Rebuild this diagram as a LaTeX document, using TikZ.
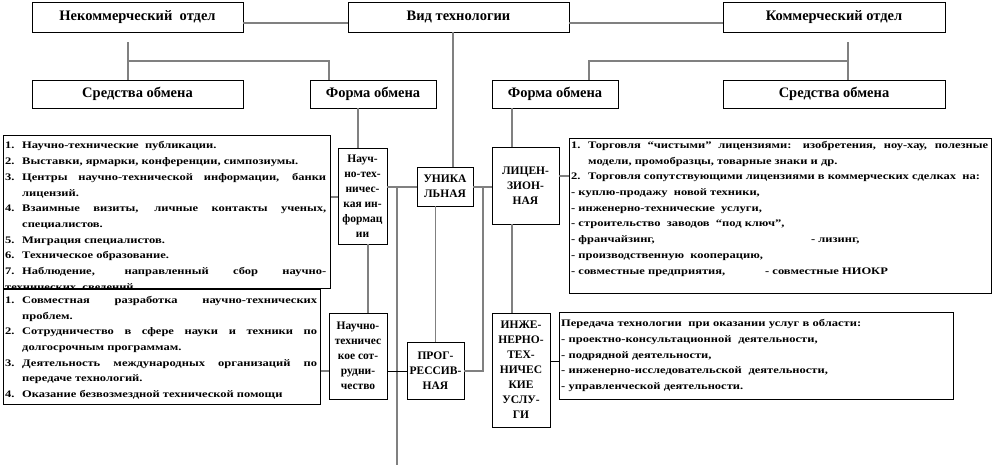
\documentclass[tikz,border=0pt]{standalone}
\usepackage{fontspec}
\setmainfont{Liberation Serif}
\newfontfamily\lstfont{Liberation Serif}[FakeStretch=1.25]
\definecolor{ln}{RGB}{128,128,128}
\newcommand\itm[1]{\par\hangindent=17pt\hangafter=1\noindent\makebox[17pt][l]{#1}\ignorespaces}
\newcommand\hdrfont{\bfseries\fontsize{14.5}{16}\selectfont}
\newcommand\sbfont{\bfseries\fontsize{11.5}{15}\selectfont}
\newcommand\lfont{\lstfont\bfseries\fontsize{10}{15.7}\selectfont\tolerance=9999\pretolerance=-1}
\begin{document}
\begin{tikzpicture}[x=1pt,y=-1pt,
  box/.style={draw=black, line width=0.8pt, inner sep=0pt, align=center},
  hbox/.style={box, font=\hdrfont},
  sbox/.style={box, font=\sbfont},
  lbox/.style={draw=black, line width=0.8pt, inner sep=0pt, anchor=north west},
  ltext/.style={anchor=north west, inner sep=0pt, align=justify, font=\lfont},
  conn/.style={draw=ln, line width=1.2pt},
  connb/.style={draw=black, line width=0.8pt}]
\useasboundingbox (0,0) rectangle (995,467);
% header row
\node[hbox, minimum width=211pt, minimum height=30pt] (nk) at (137.5,17) {Некоммерческий\ \ отдел};
\node[hbox, minimum width=221pt, minimum height=30pt] (vt) at (458.5,17) {Вид технологии};
\node[hbox, minimum width=222pt, minimum height=30pt] (ko) at (834,17) {Коммерческий отдел};
% second row
\node[hbox, minimum width=211pt, minimum height=28pt] (sl) at (137.5,94) {Средства обмена};
\node[hbox, minimum width=126pt, minimum height=28pt] (fl) at (373,94) {Форма обмена};
\node[hbox, minimum width=126pt, minimum height=28pt] (fr) at (555,94) {Форма обмена};
\node[hbox, minimum width=222pt, minimum height=28pt] (sr) at (834,94) {Средства обмена};
% small boxes
\node[sbox, minimum width=49pt, minimum height=96pt] (ni) at (362.5,196) {Науч-\\но-тех-\\ничес-\\кая ин-\\формац\\ии};
\node[sbox, minimum width=56pt, minimum height=39pt] (un) at (445,186.5) {УНИКА\\ЛЬНАЯ};
\node[sbox, minimum width=67pt, minimum height=77pt] (li) at (525.5,185.5) {ЛИЦЕН-\\ЗИОН-\\НАЯ};
\node[sbox, minimum width=58pt, minimum height=86pt] (ns) at (358,356) {Научно-\\техничес\\кое сот-\\рудни-\\чество};
\node[sbox, minimum width=57pt, minimum height=57pt] (pr) at (435.5,370.5) {ПРОГ-\\РЕССИВ-\\НАЯ};
\node[sbox, minimum width=58pt, minimum height=114pt] (ie) at (521,370) {ИНЖЕ-\\НЕРНО-\\ТЕХ-\\НИЧЕС\\КИЕ\\УСЛУ-\\ГИ};
% list boxes
\node[lbox, minimum width=327pt, minimum height=153pt] (L1) at (3,135) {};
\node[ltext, text width=321pt] (T1) at (5,133) {%
\itm{1.}Научно-технические\ \ публикации.
\itm{2.}Выставки, ярмарки, конференции, симпозиумы.
\itm{3.}Центры научно-технической информации, банки\linebreak лицензий.
\itm{4.}Взаимные визиты, личные контакты ученых,\linebreak специалистов.
\itm{5.}Миграция специалистов.
\itm{6.}Техническое образование.
\itm{7.}Наблюдение, направленный сбор научно-\linebreak технических\ \ сведений.};
\node[lbox, fill=white, minimum width=317pt, minimum height=115pt] (L2) at (3,289) {};
\node[ltext, text width=312pt] (T2) at (5,287.5) {%
\itm{1.}Совместная разработка научно-технических\linebreak проблем.
\itm{2.}Сотрудничество в сфере науки и техники по\linebreak долгосрочным программам.
\itm{3.}Деятельность международных организаций по\linebreak передаче технологий.
\itm{4.}Оказание безвозмездной технической помощи};
\node[lbox, minimum width=422pt, minimum height=155pt] (R1) at (569,138) {};
\node[ltext, text width=417pt] (T3) at (571,132.5) {%
\itm{1.}Торговля “чистыми” лицензиями: изобретения, ноу-хау, полезные\linebreak модели, промобразцы, товарные знаки и др.
\itm{2.}Торговля сопутствующими лицензиями в коммерческих сделках\ \ на:
\par\noindent - куплю-продажу\ \ новой техники,
\par\noindent - инженерно-технические\ \ услуги,
\par\noindent - строительство\ \ заводов\ \ “под ключ”,
\par\noindent\makebox[240pt][l]{- франчайзинг,}- лизинг,
\par\noindent - производственную\ \ кооперацию,
\par\noindent\makebox[194pt][l]{- совместные предприятия,}- совместные НИОКР};
\node[lbox, minimum width=394pt, minimum height=87pt] (R2) at (559,312) {};
\node[ltext, text width=385pt, align=left] (T4) at (561,319.5) {%
Передача технологии\ \ при оказании услуг в области:\\
- проектно-консультационной\ \ деятельности,\\
- подрядной деятельности,\\
- инженерно-исследовательской\ \ деятельности,\\
- управленческой деятельности.};
% connector coordinates
\coordinate (nkd) at (128,42);
\coordinate (kod) at (848,42);
\coordinate (hl) at (128,61);
\coordinate (hr) at (848,61);
\coordinate (jl) at (397,187);
\coordinate (jr) at (483,187);
\coordinate (bot) at (397,465);
% connectors
\draw[conn] (nk.east |- 0,23) -- (vt.west |- 0,23);
\draw[conn] (vt.east |- 0,23) -- (ko.west |- 0,23);
\draw[conn] (nkd) -- (sl.north -| nkd);
\draw[conn] (hl) -- (hl -| 329,0) -- (fl.north -| 329,0);
\draw[conn] (kod) -- (sr.north -| kod);
\draw[conn] (hr) -- (hr -| 589,0) -- (fr.north -| 589,0);
\draw[conn] (vt.south -| 453,0) -- (un.north -| 453,0);
\draw[conn] (fl.south -| 358,0) -- (ni.north -| 358,0);
\draw[conn] (fr.south -| 512,0) -- (li.north -| 512,0);
\draw[conn] (li.south -| 512,0) -- (ie.north -| 512,0);
\draw[conn] (ni.south -| 368,0) -- (ns.north -| 368,0);
\draw[conn] (un.south -| pr.north) -- (pr.north);
\draw[conn] (ni.east |- jl) -- (un.west |- jl);
\draw[conn] (un.east |- jl) -- (li.west |- jl);
\draw[conn] (jl) -- (bot);
\draw[conn] (pr.east |- 0,371) -- (jr |- 0,371) -- (jr);
\draw[connb] (ns.east |- 0,371) -- (pr.west |- 0,371);
\draw[conn] (L1.east |- 0,197) -- (ni.west |- 0,197);
\draw[conn] (L2.east |- 0,371) -- (ns.west |- 0,371);
\draw[conn] (li.east |- 0,176) -- (R1.west |- 0,176);
\draw[connb] (ie.east |- 0,361) -- (R2.west |- 0,361);
\end{tikzpicture}
\end{document}
